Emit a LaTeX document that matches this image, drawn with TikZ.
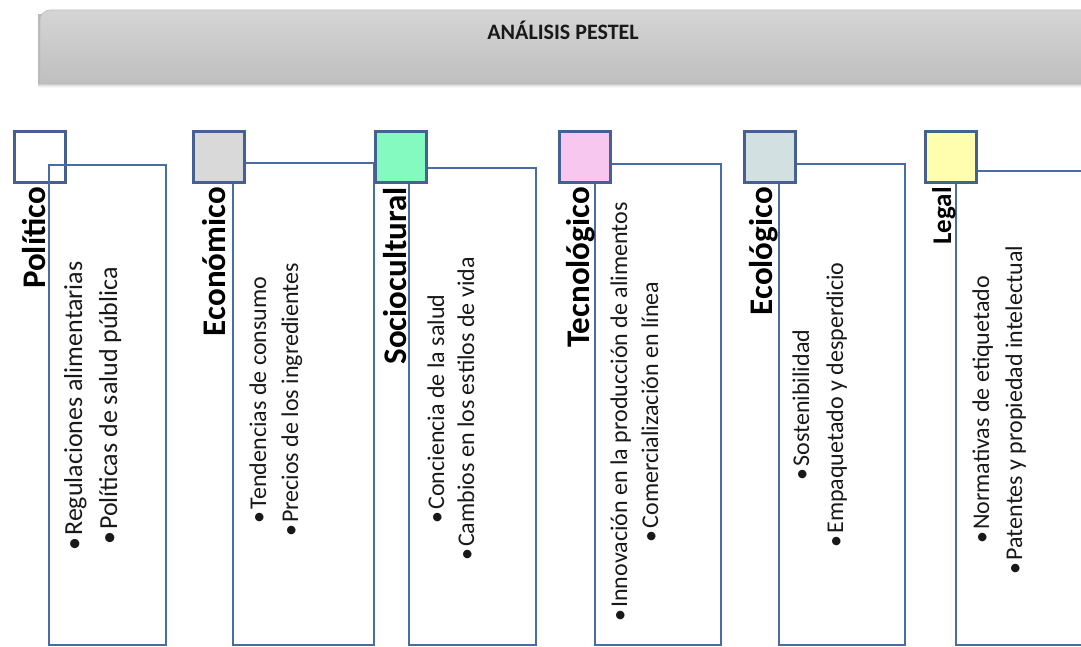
\documentclass[tikz,border=0pt]{standalone}
\usepackage{fontspec}
\setmainfont{Carlito}
\definecolor{rectline}{HTML}{4A6CA5}
\definecolor{sqline}{HTML}{46618F}
\definecolor{fE}{HTML}{D9D9D9}
\definecolor{fS}{HTML}{84F9C0}
\definecolor{fT}{HTML}{F7C7F0}
\definecolor{fEc}{HTML}{D3E0E2}
\definecolor{fL}{HTML}{FFFDAE}
\definecolor{hdtop}{HTML}{D5D5D5}
\definecolor{hdbot}{HTML}{BFBFBF}
\tikzset{
  rectbox/.style={draw=rectline, line width=2.4pt, minimum width=#1, anchor=north west, inner sep=0pt},
  sqbox/.style={draw=sqline, line width=2.6pt, minimum width=51pt, minimum height=51pt, anchor=north west, inner sep=0pt},
  catlabel/.style={rotate=90, anchor=base east, inner sep=0pt, font=\bfseries\fontsize{#1}{#1}\selectfont},
  bul/.style={rotate=90, anchor=base, inner sep=0pt, text=black!90, font=\fontsize{#1}{#1}\selectfont}
}
\newcommand{\bt}{\textbullet\hspace{2pt}}
\begin{document}
\begin{tikzpicture}[x=1pt,y=-1pt]
\useasboundingbox (0,0) rectangle (1081,647);
\clip (0,0) rectangle (1081,647);
% header shadow
\foreach \o/\a in {1/0.10,2/0.08,3/0.06,4/0.04,5/0.03}
  \fill[black, opacity=\a] (38,14) rectangle (1100,83+\o);
% header
\shade[top color=hdtop, bottom color=hdbot, draw=black!25, line width=0.6pt]
  (40,83) [rounded corners=10pt] -- (40,10) -- (1100,10) [sharp corners] -- (1100,83) -- cycle;
\node[font=\bfseries\fontsize{22}{22}\selectfont, text=black!90] (title) at (563,30) {ANÁLISIS PESTEL};

% Politico square (unfilled) drawn below its rectangle
\node[sqbox] (Ps) at (13,130) {};

% rectangles
\node[rectbox=117pt, minimum height=480pt] (Pr) at (48,164) {};
\node[rectbox=141pt, minimum height=482pt] (Er) at (232,162) {};
\node[rectbox=127pt, minimum height=477pt] (Sr) at (408,167) {};
\node[rectbox=126pt, minimum height=481pt] (Tr) at (594,163) {};
\node[rectbox=126pt, minimum height=481pt] (Ecr) at (778,163) {};
\node[rectbox=140pt, minimum height=474pt] (Lr) at (955,170) {};

% filled squares on top
\node[sqbox, fill=fE] (Es) at (192,130) {};
\node[sqbox, fill=fS] (Ss) at (374,130) {};
\node[sqbox, fill=fT] (Ts) at (558,130) {};
\node[sqbox, fill=fEc] (Ecs) at (743,130) {};
\node[sqbox, fill=fL] (Ls) at (924,130) {};

% category labels
\node[catlabel=33] (Pl) at (45,187) {Político};
\node[catlabel=33] (El) at (225,187) {Económico};
\node[catlabel=33] (Sl) at (406,187) {Sociocultural};
\node[catlabel=33] (Tl) at (589,187) {Tecnológico};
\node[catlabel=33] (Ecl) at (772,187) {Ecológico};
\node[catlabel=27] (Ll) at (951,187) {Legal};

% bullet texts
\node[bul=26] (P1) at (82,406) {\bt Regulaciones alimentarias};
\node[bul=26] (P2) at (117,406) {\bt Políticas de salud pública};
\node[bul=24] (E1) at (266,400) {\bt Tendencias de consumo};
\node[bul=24] (E2) at (298,400) {\bt Precios de los ingredientes};
\node[bul=24] (S1) at (444,409) {\bt Conciencia de la salud};
\node[bul=24] (S2) at (474,409) {\bt Cambios en los estilos de vida};
\node[bul=24] (T1) at (627,412) {\bt Innovación en la producción de alimentos};
\node[bul=24] (T2) at (658,412) {\bt Comercialización en línea};
\node[bul=24] (Ec1) at (809,405) {\bt Sostenibilidad};
\node[bul=24] (Ec2) at (843,405) {\bt Empaquetado y desperdicio};
\node[bul=24] (L1) at (989,410) {\bt Normativas de etiquetado};
\node[bul=24] (L2) at (1022,410) {\bt Patentes y propiedad intelectual};
\end{tikzpicture}
\end{document}
